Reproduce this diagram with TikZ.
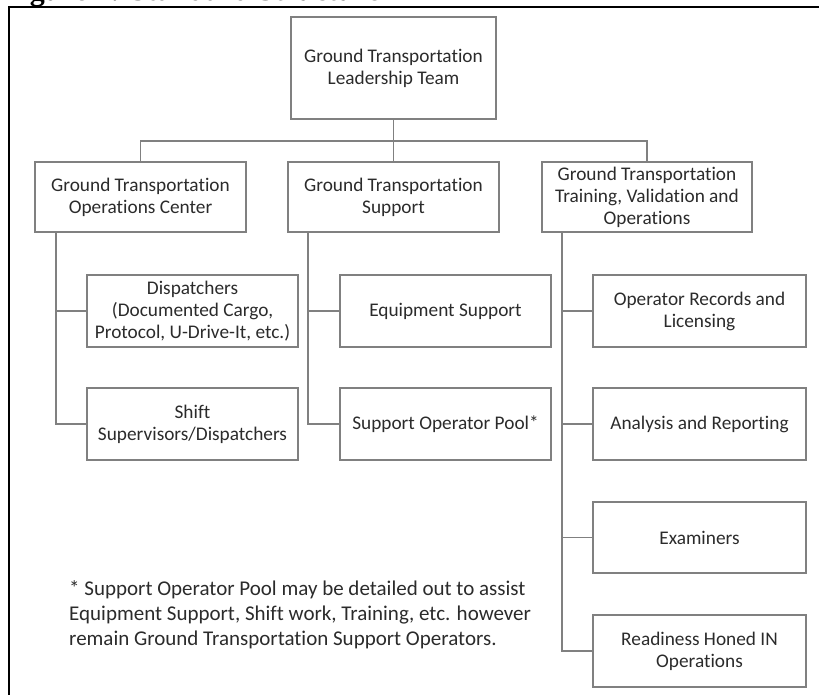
\documentclass[tikz,border=0pt]{standalone}
\usepackage{fontspec}
\setmainfont{Carlito}[Ligatures=NoCommon]
\newfontfamily\capfont{Liberation Serif}
\definecolor{boxgrey}{HTML}{808080}
\definecolor{txtgrey}{HTML}{2B2B2B}
\begin{document}
\begin{tikzpicture}[x=1pt,y=-1pt,
  orgbox/.style={draw=boxgrey, line width=1.6pt, text=txtgrey, align=center,
    inner sep=0pt, rectangle, font=\fontsize{19.3}{22}\selectfont},
  lvltwo/.style={orgbox, minimum width=211pt, minimum height=70pt},
  lvlthree/.style={orgbox, minimum width=211pt, minimum height=72pt},
  link/.style={draw=boxgrey, line width=1.6pt}]
\useasboundingbox (0,0) rectangle (819,694);
% caption, clipped by the page top
\node[anchor=base west, inner sep=0pt, font=\capfont\bfseries\fontsize{30}{34}\selectfont] (cap) at (3,0.5) {Figure 1: Standard Structure};
% outer frame
\draw[black, line width=1.6pt] (9,7) rectangle (850,720);
% top
\node[orgbox, minimum width=205pt, minimum height=102pt] (T) at (393.5,68) {Ground Transportation\\Leadership Team};
% level 2
\node[lvltwo] (A) at (140.5,197) {Ground Transportation\\Operations Center};
\node[lvltwo] (B) at (393.5,197) {Ground Transportation\\Support};
\node[lvltwo, minimum width=210pt] (C) at (647,197) {Ground Transportation\\Training, Validation and\\Operations};
% level 3
\node[lvlthree] (A1) at (192.5,311) {Dispatchers\\(Documented Cargo,\\Protocol, U-Drive-It, etc.)};
\node[lvlthree] (A2) at (192.5,424) {Shift\\Supervisors/Dispatchers};
\node[lvlthree] (B1) at (445.5,311) {Equipment Support};
\node[lvlthree] (B2) at (445.5,424) {Support Operator Pool*};
\node[lvlthree, minimum width=213pt] (C1) at (699.5,311) {Operator Records and\\Licensing};
\node[lvlthree, minimum width=213pt] (C2) at (699.5,424) {Analysis and Reporting};
\node[lvlthree, minimum width=213pt, minimum height=71pt] (C3) at (699.5,537.5) {Examiners};
\node[lvlthree, minimum width=213pt] (C4) at (699.5,651) {Readiness Honed IN\\Operations};
% connectors top
\coordinate (bar) at (393.5,141);
\draw[link] (T.south) -- (B.north);
\draw[link] (T.south) -- (bar) -| (A.north);
\draw[link] (T.south) -- (bar) -| (C.north);
% trunks
\draw[link] ([xshift=22pt]A.south west) |- (A1.west);
\draw[link] ([xshift=22pt]A.south west) |- (A2.west);
\draw[link] ([xshift=21pt]B.south west) |- (B1.west);
\draw[link] ([xshift=21pt]B.south west) |- (B2.west);
\draw[link] ([xshift=21pt]C.south west) |- (C1.west);
\draw[link] ([xshift=21pt]C.south west) |- (C2.west);
\draw[link] ([xshift=21pt]C.south west) |- (C3.west);
\draw[link] ([xshift=21pt]C.south west) |- (C4.west);
% footnote
\node[anchor=north west, inner sep=0pt, align=left, text=txtgrey, font=\fontsize{21}{25}\selectfont] (note) at (69,580)
  {* Support Operator Pool may be detailed out to assist\\Equipment Support, Shift work, Training, etc. however\\remain Ground Transportation Support Operators.};
\end{tikzpicture}
\end{document}
